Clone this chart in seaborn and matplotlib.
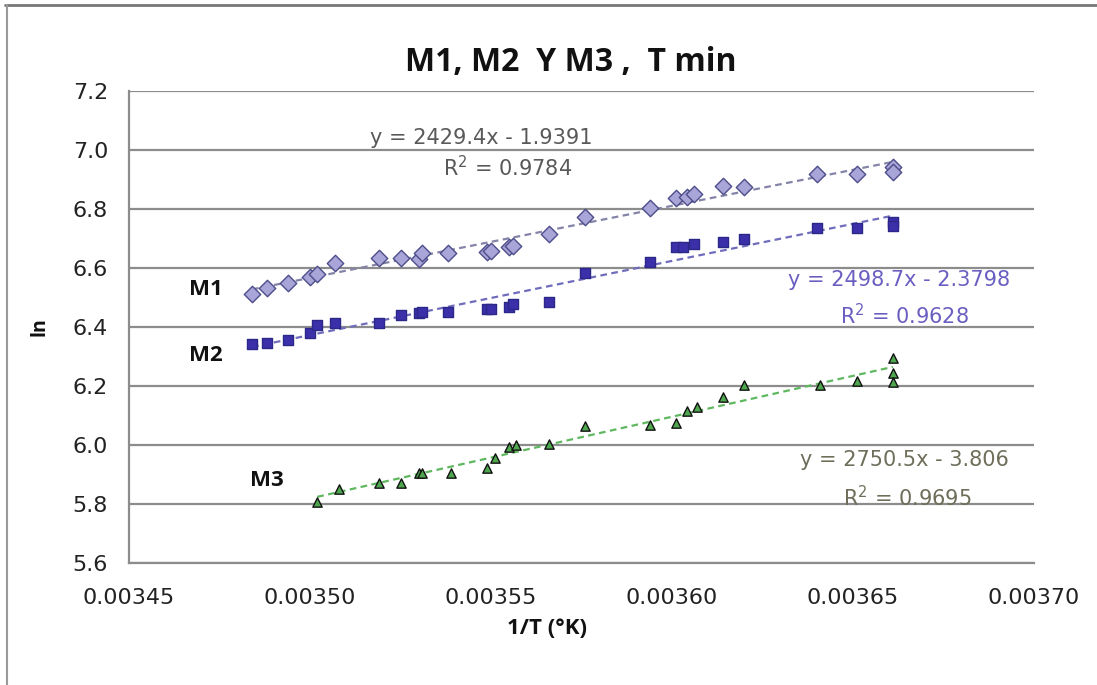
import numpy as np
import pandas as pd
import matplotlib
matplotlib.use('Agg')
import matplotlib.pyplot as plt
from matplotlib.lines import Line2D
import seaborn as sns

# 1/T values and ln values
x_m1 = [0.003484, 0.003488, 0.003494, 0.003500, 0.003502, 0.003507, 0.003519, 0.003525,
        0.003530, 0.003531, 0.003538, 0.003549, 0.003550, 0.003555, 0.003556, 0.003566,
        0.003576, 0.003594, 0.003601, 0.003604, 0.003606, 0.003614, 0.003620, 0.003640,
        0.003651, 0.003661, 0.003661]
ln_m1 = [6.512, 6.532, 6.551, 6.570, 6.580, 6.617, 6.634, 6.634,
         6.631, 6.651, 6.651, 6.655, 6.659, 6.672, 6.675, 6.716,
         6.773, 6.803, 6.838, 6.841, 6.851, 6.878, 6.876, 6.919,
         6.919, 6.943, 6.927]

x_m2 = [0.003484, 0.003488, 0.003494, 0.003500, 0.003502, 0.003507, 0.003519, 0.003525,
        0.003530, 0.003531, 0.003538, 0.003549, 0.003550, 0.003555, 0.003556, 0.003566,
        0.003576, 0.003594, 0.003601, 0.003603, 0.003606, 0.003614, 0.003620, 0.003640,
        0.003651, 0.003661, 0.003661]
ln_m2 = [6.342, 6.347, 6.357, 6.381, 6.407, 6.415, 6.413, 6.441,
         6.447, 6.452, 6.452, 6.460, 6.461, 6.469, 6.478, 6.486,
         6.582, 6.622, 6.673, 6.673, 6.682, 6.689, 6.698, 6.735,
         6.735, 6.757, 6.743]

x_m3 = [0.003502, 0.003508, 0.003519, 0.003525, 0.003530, 0.003531, 0.003539, 0.003549,
        0.003551, 0.003555, 0.003557, 0.003566, 0.003576, 0.003594, 0.003601, 0.003604,
        0.003607, 0.003614, 0.003620, 0.003641, 0.003651, 0.003661, 0.003661, 0.003661]
ln_m3 = [5.809, 5.851, 5.873, 5.871, 5.905, 5.905, 5.905, 5.922,
         5.956, 5.995, 6.001, 6.003, 6.065, 6.069, 6.074, 6.116,
         6.131, 6.162, 6.204, 6.204, 6.218, 6.295, 6.244, 6.215]

eq_m1 = ['y = 2429.4x - 1.9391', 'R$^2$ = 0.9784']
eq_m2 = ['y = 2498.7x - 2.3798', 'R$^2$ = 0.9628']
eq_m3 = ['y = 2750.5x - 3.806', 'R$^2$ = 0.9695']

xticks = [0.00345, 0.00350, 0.00355, 0.00360, 0.00365, 0.00370]
yticks = [5.6, 5.8, 6.0, 6.2, 6.4, 6.6, 6.8, 7.0, 7.2]

sns.set_style('white')
plt.rcParams['font.family'] = ['DejaVu Sans']
bold_fam = ['Liberation Sans Narrow', 'Open Sans', 'DejaVu Sans']

fig = plt.figure(figsize=(10.97, 6.85), dpi=100)
ax = fig.add_axes([0.1176, 0.1777, 0.825, 0.6895])

grid_c = '#8c8c8c'
for yv in yticks:
    ax.axhline(yv, color=grid_c, lw=1.6, zorder=0)

series = [
    (x_m1, ln_m1, 'D', 70, '#a9a5d8', '#4d4d8a', '#8484a8'),
    (x_m2, ln_m2, 's', 45, '#3b30aa', '#2c2888', '#6f6cbc'),
    (x_m3, ln_m3, '^', 45, '#4ea64e', '#111111', '#5fb85f'),
]
for xs, ys, mk, sz, fc, ec, lc in series:
    d = pd.DataFrame({'x': xs, 'y': ys})
    sns.regplot(data=d, x='x', y='y', ax=ax, scatter=False, ci=None,
                line_kws=dict(color=lc, lw=1.6, ls=(0, (3, 2))))
    sns.scatterplot(data=d, x='x', y='y', ax=ax, marker=mk, s=sz,
                    color=fc, edgecolor=ec, linewidth=1.0, zorder=3)

ax.set_xlim(0.00345, 0.00370)
ax.set_ylim(5.6, 7.2)
ax.set_xticks(xticks)
ax.set_xticklabels(['%.5f' % v for v in xticks])
ax.set_yticks(yticks)
ax.set_yticklabels(['%.1f' % v for v in yticks])
ax.tick_params(axis='both', direction='out', length=7, width=1.2, color=grid_c,
               labelsize=16, labelcolor='#222222')
ax.tick_params(axis='x', pad=11)
ax.tick_params(axis='y', pad=8)
ax.set_xlabel('')
ax.set_ylabel('')
for s in ['top', 'right']:
    ax.spines[s].set_visible(False)
for s in ['left', 'bottom']:
    ax.spines[s].set_color(grid_c)
    ax.spines[s].set_linewidth(1.6)

eq_kw = dict(transform=ax.transAxes, ha='center', va='center', fontsize=15)
ax.text(0.389, 0.900, eq_m1[0], color='#595959', **eq_kw)
ax.text(0.418, 0.837, eq_m1[1], color='#595959', **eq_kw)
ax.text(0.851, 0.600, eq_m2[0], color='#6a5fc1', **eq_kw)
ax.text(0.857, 0.524, eq_m2[1], color='#6a5fc1', **eq_kw)
ax.text(0.857, 0.219, eq_m3[0], color='#6e6e5a', **eq_kw)
ax.text(0.860, 0.140, eq_m3[1], color='#6e6e5a', **eq_kw)

lab_kw = dict(transform=ax.transAxes, ha='center', va='center', fontsize=16,
              fontweight='bold', family=bold_fam, color='#111111')
ax.text(0.085, 0.579, 'M1', **lab_kw)
ax.text(0.085, 0.439, 'M2', **lab_kw)
ax.text(0.152, 0.176, 'M3', **lab_kw)

fig.text(0.520, 0.909, 'M1, M2  Y M3 ,  T min', ha='center', va='center', fontsize=23,
         fontweight='bold', family=bold_fam, color='#111111')
fig.text(0.499, 0.083, '1/T (°K)', ha='center', va='center', fontsize=16,
         fontweight='bold', family=bold_fam, color='#111111')
fig.text(0.036, 0.523, 'ln', ha='center', va='center', fontsize=14, rotation=90,
         fontweight='bold', family=bold_fam, color='#111111')

# outer chart frame (top and left edges visible in the reference)
fig.add_artist(Line2D([0.005, 1.0], [0.993, 0.993], transform=fig.transFigure,
                      color='#777777', lw=2))
fig.add_artist(Line2D([0.006, 0.006], [0.0, 0.993], transform=fig.transFigure,
                      color='#999999', lw=1.5))

fig.savefig('out.png', dpi=100)
